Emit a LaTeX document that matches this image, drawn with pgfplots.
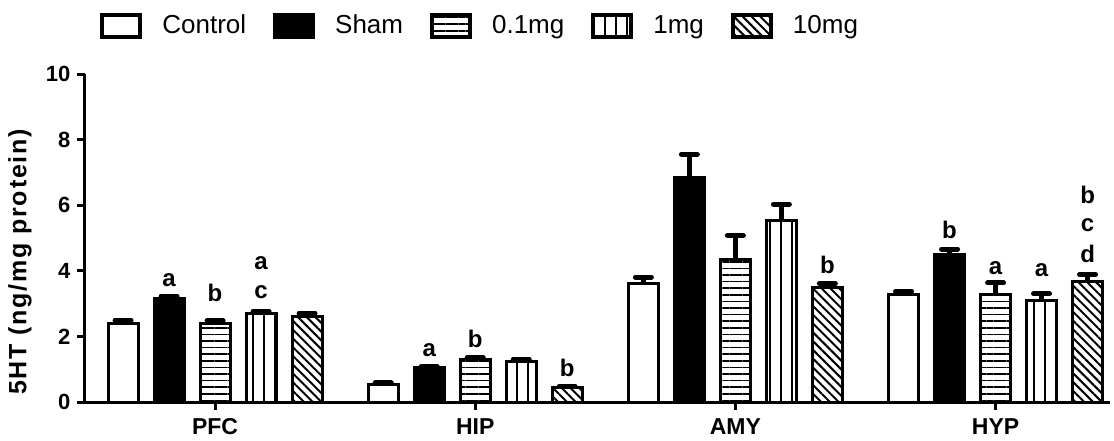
\documentclass[border=0pt]{standalone}
\usepackage{fontspec}
\setmainfont{Liberation Sans}
\usepackage{pgfplots}
\pgfplotsset{compat=1.18}
\usetikzlibrary{patterns.meta}

\pgfplotstableread{
x y e
0 2.38 0.12
1 0.53 0.05
2 3.60 0.21
3 3.27 0.11
}\control
\pgfplotstableread{
x y e
0 3.17 0.06
1 1.06 0.03
2 6.85 0.70
3 4.49 0.17
}\sham
\pgfplotstableread{
x y e
0 2.40 0.08
1 1.29 0.06
2 4.34 0.74
3 3.27 0.36
}\lowdose
\pgfplotstableread{
x y e
0 2.71 0.06
1 1.22 0.09
2 5.54 0.49
3 3.09 0.21
}\middose
\pgfplotstableread{
x y e
0 2.61 0.10
1 0.45 0.03
2 3.48 0.13
3 3.66 0.23
}\highdose

\begin{document}
\begin{tikzpicture}
\begin{axis}[
  scale only axis,
  width=512.5pt, height=164pt,
  xmin=-0.5, xmax=3.44,
  ymin=0, ymax=10,
  ybar,
  axis x line=bottom, axis y line=left,
  axis line style={-, line width=1.5pt},
  xtick={0,1,2,3},
  xticklabels={PFC,HIP,AMY,HYP},
  ytick={0,2,4,6,8,10},
  tick align=outside,
  major tick length=3.8pt,
  tick style={line width=1.5pt, black},
  /pgf/number format/assume math mode=true,
  yticklabel style={font=\bfseries\fontsize{11}{13}\selectfont},
  xticklabel style={font=\bfseries\fontsize{11.5}{13}\selectfont, yshift=-1pt},
  ylabel={\addfontfeature{LetterSpace=7}5HT (ng/mg protein)},
  every axis y label/.style={at={(axis description cs:-0.0634,0.427)}, rotate=90, anchor=center,
    font=\bfseries\fontsize{12.5}{14}\selectfont},
  legend image code/.code={\draw[#1, line width=2pt] (0pt,-5.5pt) rectangle (19pt,5.5pt);},
  legend style={draw=none, fill=none, legend columns=-1, font=\fontsize{13}{15}\selectfont,
    at={(axis description cs:0.0146,1.147)}, anchor=west, inner sep=0pt,
    /tikz/every odd column/.append style={column sep=8pt},
    /tikz/every even column/.append style={column sep=11.5pt}},
  bar width=15pt,
  every axis plot/.append style={draw=black, line width=1.5pt},
  error bars/error bar style={line width=2.2pt, black},
  error bars/error mark=|,
  error bars/error mark options={line width=2.5pt, mark size=4pt, line cap=round, black},
  clip=false,
]
\addplot[bar shift=-46pt, fill=white, error bars/.cd, y dir=plus, y explicit]
  table[x=x, y=y, y error=e]{\control};
\addplot[bar shift=-23pt, fill=black, error bars/.cd, y dir=plus, y explicit]
  table[x=x, y=y, y error=e]{\sham};
\addplot[bar shift=0pt, fill=white, pattern={Lines[angle=0, distance=3.3pt, line width=0.8pt]}, error bars/.cd, y dir=plus, y explicit]
  table[x=x, y=y, y error=e]{\lowdose};
\addplot[bar shift=23pt, fill=white, pattern={Lines[angle=90, distance=5.5pt, line width=1pt]}, error bars/.cd, y dir=plus, y explicit]
  table[x=x, y=y, y error=e]{\middose};
\addplot[bar shift=46pt, fill=white, pattern={Lines[angle=-45, distance=3.1pt, line width=1pt]}, error bars/.cd, y dir=plus, y explicit]
  table[x=x, y=y, y error=e]{\highdose};
\legend{Control,Sham,0.1mg,1mg,10mg}

\begin{scope}[every node/.style={font=\bfseries\fontsize{12}{14}\selectfont, anchor=center, inner sep=0pt}]
\node at (axis cs:-0.177,3.72) {a};
\node at (axis cs:0,3.32) {b};
\node at (axis cs:0.177,4.24) {a};
\node at (axis cs:0.177,3.35) {c};
\node at (axis cs:0.823,1.58) {a};
\node at (axis cs:1,1.92) {b};
\node at (axis cs:1.354,1.04) {b};
\node at (axis cs:2.354,4.18) {b};
\node at (axis cs:2.823,5.24) {b};
\node at (axis cs:3,4.08) {a};
\node at (axis cs:3.177,4.02) {a};
\node at (axis cs:3.354,6.31) {b};
\node at (axis cs:3.354,5.40) {c};
\node at (axis cs:3.354,4.51) {d};
\end{scope}
\end{axis}
\pgfresetboundingbox
\useasboundingbox (-42.5pt,-19pt) rectangle (514.5pt,201pt);
\end{tikzpicture}
\end{document}
